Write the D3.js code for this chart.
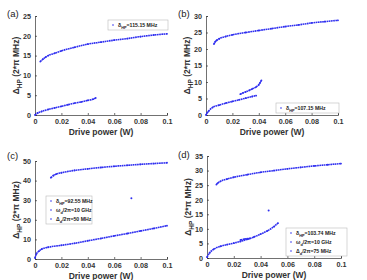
<!DOCTYPE html>
<html lang="en">
<head>
<meta charset="UTF-8">
<title>Delta HP vs drive power</title>
<script src="https://d3js.org/d3.v7.min.js"></script>
<style>
    body { margin: 0; background: #fff; }
    text { font-family: "Liberation Sans", Arial, sans-serif; }
</style>
</head>
<body>
<div id="chart"></div>
<script>
// x values in W, y values in 2*pi MHz
const aUpperX = [0.004, 0.006, 0.008, 0.010, 0.015, 0.020, 0.030, 0.040, 0.050, 0.060, 0.070, 0.080, 0.090, 0.100];
const aUpperY = [13.5, 14.1, 14.6, 15.0, 15.6, 16.2, 17.1, 17.9, 18.4, 18.9, 19.3, 19.8, 20.2, 20.5];
const aLowerX = [0.000, 0.002, 0.005, 0.010, 0.015, 0.020, 0.025, 0.030, 0.035, 0.040, 0.044, 0.046];
const aLowerY = [0.0, 0.5, 0.9, 1.4, 1.8, 2.2, 2.6, 3.0, 3.3, 3.7, 4.0, 4.3];

const bUpperX = [0.006, 0.007, 0.008, 0.010, 0.015, 0.020, 0.030, 0.040, 0.050, 0.060, 0.070, 0.080, 0.090, 0.100];
const bUpperY = [21.5, 22.2, 22.6, 23.1, 23.8, 24.3, 25.0, 25.6, 26.2, 26.8, 27.3, 27.9, 28.3, 28.7];
const bLowerX = [0.000, 0.001, 0.002, 0.005, 0.010, 0.015, 0.020, 0.025, 0.030, 0.035, 0.038];
const bLowerY = [0.0, 0.7, 1.2, 2.3, 3.0, 3.6, 4.1, 4.6, 5.1, 5.6, 5.9];
const bMidX = [0.026, 0.028, 0.030, 0.033, 0.035, 0.038, 0.040, 0.041, 0.042];
const bMidY = [6.3, 6.7, 7.0, 7.5, 7.9, 8.5, 9.2, 9.8, 10.5];

const cUpperX = [0.012, 0.014, 0.016, 0.020, 0.030, 0.040, 0.050, 0.060, 0.070, 0.080, 0.090, 0.100];
const cUpperY = [41.5, 42.6, 43.3, 44.0, 45.2, 46.0, 46.7, 47.3, 47.8, 48.3, 48.7, 49.1];
const cLowerX = [0.000, 0.001, 0.003, 0.005, 0.010, 0.020, 0.030, 0.040, 0.050, 0.060, 0.070, 0.080, 0.090, 0.100];
const cLowerY = [0.5, 2.5, 4.0, 5.0, 6.0, 7.0, 8.0, 9.3, 10.5, 11.8, 13.0, 14.3, 15.6, 17.0];
const cOutX = [0.073];
const cOutY = [31.0];

const dUpperX = [0.007, 0.008, 0.010, 0.015, 0.020, 0.030, 0.040, 0.050, 0.060, 0.070, 0.080, 0.090, 0.100];
const dUpperY = [25.2, 25.7, 26.3, 27.1, 27.7, 28.6, 29.4, 30.0, 30.6, 31.1, 31.6, 32.0, 32.4];
const dLowerX = [0.000, 0.002, 0.005, 0.010, 0.015, 0.020, 0.025, 0.030, 0.035, 0.040, 0.045, 0.050, 0.053];
const dLowerY = [0.3, 1.8, 3.0, 4.0, 4.6, 5.1, 5.7, 6.4, 7.2, 8.2, 9.3, 10.8, 12.0];
const dMidX = [0.025, 0.028, 0.030, 0.032];
const dMidY = [6.2, 6.5, 6.6, 6.7];
const dOutX = [0.046];
const dOutY = [16.3];

const xTicks = [0, 0.02, 0.04, 0.06, 0.08, 0.1];

const zip = (xs, ys) => xs.map((x, i) => ({ x: x, y: ys[i] }));

const panels = [
    { tag: "(a)", box: [35, 16, 167, 115], yMax: 25, yTicks: [0, 5, 10, 15, 20, 25],
      lines: [zip(aUpperX, aUpperY), zip(aLowerX, aLowerY)], dots: [],
      legend: { x: 108, y: 20, w: 60, rows: ["δ|HP|=115.15 MHz"] }, tagPos: [7, 17] },
    { tag: "(b)", box: [206, 16, 338, 115], yMax: 30, yTicks: [0, 5, 10, 15, 20, 25, 30],
      lines: [zip(bUpperX, bUpperY), zip(bLowerX, bLowerY), zip(bMidX, bMidY)], dots: [],
      legend: { x: 276, y: 103, w: 63, rows: ["δ|HP|=107.15 MHz"] }, tagPos: [178, 17] },
    { tag: "(c)", box: [35, 161, 167, 259], yMax: 50, yTicks: [0, 10, 20, 30, 40, 50],
      lines: [zip(cUpperX, cUpperY), zip(cLowerX, cLowerY)], dots: zip(cOutX, cOutY),
      legend: { x: 46, y: 196, w: 46, rows: ["δ|HP|=92.55 MHz", "ω|d|/2π=10 GHz", "Δ|d|/2π=50 MHz"] }, tagPos: [7, 159] },
    { tag: "(d)", box: [207, 156, 341, 258], yMax: 35, yTicks: [0, 5, 10, 15, 20, 25, 30, 35],
      lines: [zip(dUpperX, dUpperY), zip(dLowerX, dLowerY), zip(dMidX, dMidY)], dots: zip(dOutX, dOutY),
      legend: { x: 286, y: 228, w: 61, rows: ["δ|HP|=103.74 MHz", "ω|d|/2π=10 GHz", "Δ|d|/2π=75 MHz"] }, tagPos: [178, 158] }
];

const blue = "#2f2ff0";

const svg = d3.select("#chart").append("svg")
    .attr("width", 367).attr("height", 280);

// writes "main|sub|rest" as text with a subscript
function richText(sel, str, size) {
    const parts = str.split("|");
    sel.append("tspan").text(parts[0]);
    if (parts.length > 1) {
        sel.append("tspan").attr("dy", size * 0.35).attr("font-size", size * 0.75).text(parts[1]);
        sel.append("tspan").attr("dy", -size * 0.35).text(parts[2]);
    }
}

panels.forEach(p => {
    const [x0, y0, x1, y1] = p.box;
    const x = d3.scaleLinear().domain([0, 0.1]).range([x0, x1]);
    const y = d3.scaleLinear().domain([0, p.yMax]).range([y1, y0]);
    const g = svg.append("g");

    const xAxis = d3.axisBottom(x).tickValues(xTicks).tickSize(-2).tickPadding(4)
        .tickFormat(d => d === 0 ? "0" : d3.format("~g")(d));
    g.append("g").attr("transform", `translate(0,${y1})`).call(xAxis);
    const yAxis = d3.axisLeft(y).tickValues(p.yTicks).tickSize(-2).tickPadding(4);
    g.append("g").attr("transform", `translate(${x0},0)`).call(yAxis);

    g.selectAll(".domain, .tick line").attr("stroke", "#333").attr("stroke-width", 0.7);
    g.selectAll(".tick text").attr("font-size", 7.2).attr("font-weight", "bold").attr("fill", "#333");

    // axis titles
    g.append("text").attr("x", (x0 + x1) / 2).attr("y", y1 + 20)
        .attr("text-anchor", "middle").attr("font-size", 8.5).attr("font-weight", "bold")
        .attr("fill", "#333").text("Drive power (W)");
    const yl = g.append("text")
        .attr("transform", `translate(${x0 - 16},${(y0 + y1) / 2}) rotate(-90)`)
        .attr("text-anchor", "middle").attr("font-size", 8.5).attr("font-weight", "bold").attr("fill", "#333");
    yl.append("tspan").text("Δ");
    yl.append("tspan").attr("dy", 2.8).attr("font-size", 6.5).text("HP");
    yl.append("tspan").attr("dy", -2.8).text(" (2*π MHz)");

    g.append("text").attr("x", p.tagPos[0]).attr("y", p.tagPos[1])
        .attr("font-size", 9.5).attr("fill", "#222").text(p.tag);

    // data: dense dotted curves
    const line = d3.line().x(d => x(d.x)).y(d => y(d.y)).curve(d3.curveMonotoneX);
    p.lines.forEach(series => {
        g.append("path").datum(series).attr("d", line)
            .attr("fill", "none").attr("stroke", blue).attr("stroke-width", 1.6)
            .attr("stroke-dasharray", "1.7,0.5");
        g.selectAll(null).data(series).enter().append("circle")
            .attr("cx", d => x(d.x)).attr("cy", d => y(d.y)).attr("r", 0.9).attr("fill", blue);
    });
    g.selectAll(null).data(p.dots).enter().append("circle")
        .attr("cx", d => x(d.x)).attr("cy", d => y(d.y)).attr("r", 1).attr("fill", blue);

    // legend
    const L = p.legend;
    const rowH = 9;
    g.append("rect").attr("x", L.x).attr("y", L.y).attr("width", L.w).attr("height", L.rows.length * rowH + 1)
        .attr("fill", "#fff").attr("stroke", "#bbb").attr("stroke-width", 0.6);
    L.rows.forEach((r, i) => {
        const cy = L.y + 5 + i * rowH;
        g.append("circle").attr("cx", L.x + 5).attr("cy", cy).attr("r", 0.8).attr("fill", blue);
        const t = g.append("text").attr("x", L.x + 10).attr("y", cy + 2)
            .attr("font-size", 5.2).attr("font-weight", "bold").attr("fill", "#222");
        richText(t, r, 5.2);
    });
});
</script>
</body>
</html>
